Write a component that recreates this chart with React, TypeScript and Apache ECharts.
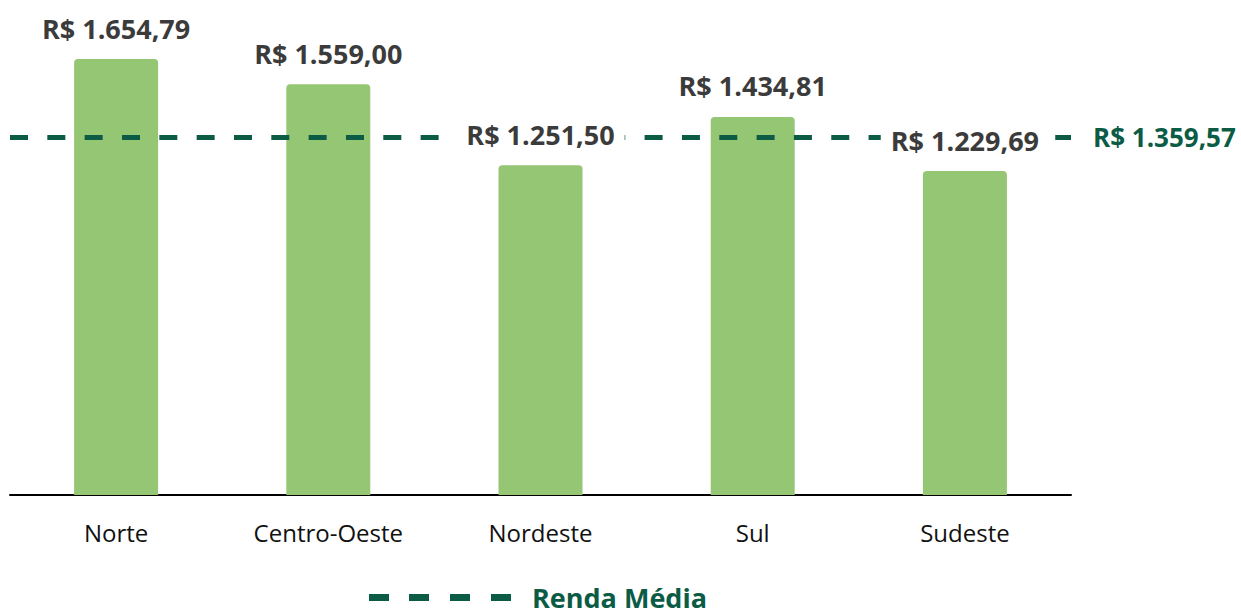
import React, { useEffect, useRef } from "react";
import * as echarts from "echarts";

const categories = ["Norte", "Centro-Oeste", "Nordeste", "Sul", "Sudeste"];
const incomeValues = [1654.79, 1559.0, 1251.5, 1434.81, 1229.69];
const averageIncome = 1359.57;
const averageName = "Renda Média";

const BAR = "#95c673";
const DARK_GREEN = "#0b5b45";
const LABEL_GRAY = "#3b3b3b";
const FONT = "'Open Sans', 'Noto Sans', sans-serif";

function brl(v: number): string {
  const [intPart, dec] = v.toFixed(2).split(".");
  const withDots = intPart.replace(/\B(?=(\d{3})+(?!\d))/g, ".");
  return "R$ " + withDots + "," + dec;
}

export default function App() {
  const ref = useRef<HTMLDivElement>(null);
  useEffect(() => {
    document.body.style.margin = "0";
    if (!ref.current) return;
    const chart = echarts.init(ref.current, null, { renderer: "svg" });
    chart.setOption({
      animation: false,
      backgroundColor: "#ffffff",
      grid: { left: 10, right: 170, top: 59, bottom: 113, containLabel: false },
      legend: {
        data: [averageName],
        left: 364,
        top: 579,
        itemWidth: 142,
        itemHeight: 7,
        icon: "path://M0,0h20v7h-20z M40,0h20v7h-20z M81,0h20v7h-20z M122,0h20v7h-20z",
        textStyle: {
          color: DARK_GREEN,
          fontFamily: FONT,
          fontWeight: "bold",
          fontSize: 27,
          padding: [0, 0, 0, 16],
        },
        selectedMode: false,
      },
      xAxis: {
        type: "category",
        data: categories,
        axisLine: { show: true, lineStyle: { color: "#000", width: 2 } },
        axisTick: { show: false },
        axisLabel: { color: "#111", fontFamily: FONT, fontSize: 24, margin: 25 },
        splitLine: { show: false },
      },
      yAxis: {
        type: "value",
        min: 0,
        max: Math.max(...incomeValues),
        show: false,
        splitLine: { show: false },
      },
      series: [
        {
          name: "Renda",
          type: "bar",
          data: incomeValues,
          barWidth: 84,
          z: 2,
          itemStyle: { color: BAR, borderRadius: [4, 4, 0, 0] },
          label: { show: false },
        },
        {
          name: averageName,
          type: "line",
          data: [],
          symbol: "none",
          itemStyle: { color: DARK_GREEN },
          lineStyle: { color: DARK_GREEN, width: 5, type: [18, 19.33] },
          markLine: {
            silent: true,
            symbol: "none",
            z: 4,
            lineStyle: { color: DARK_GREEN, width: 5, type: [18, 19.33] },
            label: {
              show: true,
              position: "end",
              distance: 22,
              formatter: () => brl(averageIncome),
              color: DARK_GREEN,
              fontFamily: FONT,
              fontWeight: "bold",
              fontSize: 26,
            },
            data: [{ yAxis: averageIncome }],
          },
        },
        {
          name: "labels",
          type: "scatter",
          data: incomeValues,
          symbolSize: 0,
          z: 10,
          silent: true,
          itemStyle: { opacity: 1 },
          label: {
            show: true,
            position: "top",
            distance: 15,
            formatter: (p: any) => brl(p.value),
            color: LABEL_GRAY,
            fontFamily: FONT,
            fontWeight: "bold",
            fontSize: 27,
            lineHeight: 28,
            backgroundColor: "#ffffff",
            padding: [2, 10],
          },
        },
      ],
    });
    return () => chart.dispose();
  }, []);
  return <div ref={ref} style={{ width: 1241, height: 608 }} />;
}
